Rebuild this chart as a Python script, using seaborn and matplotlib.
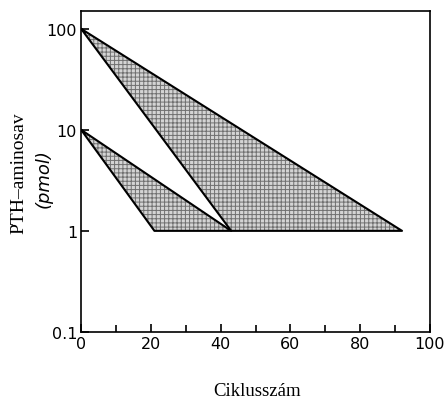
import matplotlib
matplotlib.use("Agg")
import matplotlib.pyplot as plt
from matplotlib.patches import Polygon
import seaborn as sns
import pandas as pd

# Vertices of the two shaded regions (cycle number, PTH amino acid in pmol)
upper_cycles = [0, 43, 92]
upper_pmol = [100, 1, 1]
lower_cycles = [0, 21, 43]
lower_pmol = [10, 1, 1]

x_ticks = [0, 20, 40, 60, 80, 100]
x_minor = [10, 30, 50, 70, 90]
y_ticks = [0.1, 1, 10, 100]
y_labels = ["0.1", "1", "10", "100"]

sns.set_theme(style="white")
plt.rcParams["font.family"] = ["DejaVu Sans"]
plt.rcParams["hatch.linewidth"] = 0.7

fig = plt.figure(figsize=(4.46, 4.02), dpi=100)
ax = fig.add_axes([0.182, 0.172, 0.782, 0.798])

for cx, cy in [(upper_cycles, upper_pmol), (lower_cycles, lower_pmol)]:
    # stippled fill
    ax.add_patch(Polygon(list(zip(cx, cy)), closed=True, facecolor="#d4d4d4",
                         edgecolor="#707070", linewidth=0, hatch="++++", zorder=1))
    # closed outline, drawn in vertex order
    df = pd.DataFrame({"ciklus": cx + cx[:1], "pmol": cy + cy[:1]})
    sns.lineplot(data=df, x="ciklus", y="pmol", estimator=None, sort=False,
                 color="black", linewidth=1.5, ax=ax, zorder=2)

ax.set_yscale("log")
ax.set_xlim(0, 100)
ax.set_ylim(0.1, 150)

ax.set_xticks(x_ticks)
ax.set_xticklabels([str(t) for t in x_ticks], fontsize=11.5, color="black")
ax.set_xticks(x_minor, minor=True)
ax.set_yticks(y_ticks)
ax.set_yticklabels(y_labels, fontsize=11.5, color="black")
ax.yaxis.set_minor_locator(matplotlib.ticker.NullLocator())
ax.tick_params(axis="both", which="major", direction="in", length=6, width=1.2,
               color="black", bottom=True, left=True, pad=3)
ax.tick_params(axis="x", which="minor", direction="in", length=5, width=1.2,
               color="black", bottom=True)

for s in ax.spines.values():
    s.set_color("black")
    s.set_linewidth(1.2)

ax.set_xlabel("")
ax.set_ylabel("")
fig.text(0.577, 0.025, "Ciklusszám", fontsize=13.5, family="Liberation Serif",
         ha="center", va="center", color="black")
fig.text(0.042, 0.57, "PTH–aminosav", fontsize=14, family="Liberation Serif",
         rotation=90, ha="center", va="center", color="black")
fig.text(0.098, 0.555, "(pmol)", fontsize=13, family="DejaVu Sans", style="italic",
         rotation=90, ha="center", va="center", color="black")

fig.savefig("out.png", dpi=100)
